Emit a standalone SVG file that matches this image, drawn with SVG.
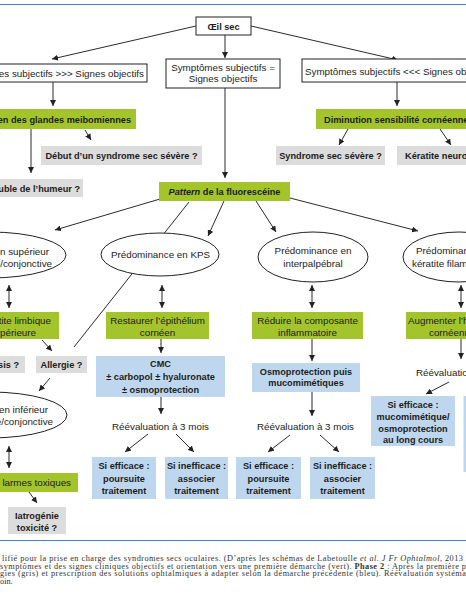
<svg xmlns="http://www.w3.org/2000/svg" width="466" height="600" viewBox="0 0 466 600">
<defs>
<marker id="ah" viewBox="0 0 10 10" refX="10" refY="5" markerWidth="6" markerHeight="6" markerUnits="userSpaceOnUse" orient="auto-start-reverse"><path d="M0,0 L10,5 L0,10 z" fill="#222"/></marker>
<style>
text{font-family:"Liberation Sans",Arial,sans-serif;fill:#1d1d1b;font-size:9.8px}
.b{font-weight:bold;font-size:9.2px}
.m{text-anchor:middle}
.e{text-anchor:end}
.wb{fill:#fff;stroke:#222;stroke-width:1}
.gr{fill:#a3c42b}
.gy{fill:#dcdcdc}
.bl{fill:#bfd7ee}
.el{fill:#fff;stroke:#222;stroke-width:1}
.c line{stroke:#2b2b2b;stroke-width:1;fill:none}
.a{marker-end:url(#ah)}
.d{marker-start:url(#ah);marker-end:url(#ah)}
.cap{font-family:"Liberation Serif","Times New Roman",serif;font-size:8.3px;fill:#333}
.rule{stroke:#3f86c8;stroke-width:1.2}
</style>
</defs>
<rect width="466" height="600" fill="#fff"/>
<line class="rule" x1="0" y1="4.5" x2="466" y2="4.5"/>

<g class="c" id="connectors">
<line class="a" x1="196" y1="26" x2="52" y2="59"/>
<line class="a" x1="251" y1="26" x2="398" y2="60"/>
<line class="a" x1="225" y1="35" x2="225" y2="58"/>
<line class="a" x1="53" y1="82" x2="53" y2="106"/>
<line class="a" x1="397" y1="82" x2="397" y2="106"/>
<line x1="0" y1="133" x2="-4" y2="138"/>
<line class="a" x1="85" y1="130" x2="91" y2="140"/>
<line class="a" x1="31" y1="129" x2="31" y2="173"/>
<line class="a" x1="348" y1="129" x2="339" y2="145"/>
<line class="a" x1="440" y1="129" x2="451" y2="145"/>
<line class="a" x1="225" y1="88" x2="225" y2="178"/>
<line class="a" x1="160" y1="199" x2="55" y2="230"/>
<line x1="189" y1="202" x2="74" y2="347"/>
<line class="a" x1="224" y1="201" x2="208" y2="236"/>
<line class="a" x1="256" y1="201" x2="276" y2="232"/>
<line class="a" x1="290" y1="198" x2="418" y2="231"/>
<line class="d" x1="9" y1="285" x2="9" y2="308"/>
<line class="d" x1="162" y1="285" x2="162" y2="308"/>
<line class="d" x1="312" y1="285" x2="312" y2="308"/>
<line class="d" x1="461" y1="285" x2="461" y2="308"/>
<line class="a" x1="42" y1="340" x2="52" y2="351"/>
<line class="a" x1="50" y1="378" x2="39" y2="391"/>
<line class="d" x1="9" y1="446" x2="9" y2="468"/>
<line class="a" x1="29" y1="492" x2="37" y2="503"/>
<line class="a" x1="161" y1="339" x2="161" y2="353"/>
<line class="a" x1="161" y1="397" x2="161" y2="414"/>
<line class="a" x1="148" y1="434" x2="125" y2="452"/>
<line class="a" x1="176" y1="434" x2="194" y2="452"/>
<line class="a" x1="312" y1="339" x2="312" y2="361"/>
<line class="a" x1="312" y1="392" x2="312" y2="416"/>
<line class="a" x1="290" y1="435" x2="268" y2="452"/>
<line class="a" x1="320" y1="435" x2="339" y2="452"/>
<line class="a" x1="461" y1="339" x2="461" y2="359"/>
<line class="a" x1="449" y1="382" x2="426" y2="394"/>
</g>

<g id="oeil-sec"><rect class="wb" x="196" y="17" width="55" height="18"/><text class="b m" x="223.5" y="29.5">Œil sec</text></g>
<g id="sympt-sup"><rect class="wb" x="-60" y="64" width="207" height="18"/><text class="e" x="144" y="76.5">Symptômes subjectifs &gt;&gt;&gt; Signes objectifs</text></g>
<g id="sympt-egal"><rect class="wb" x="166" y="59" width="114" height="29"/><text class="m" x="223" y="70.5">Symptômes subjectifs =</text><text class="m" x="223" y="82">Signes objectifs</text></g>
<g id="sympt-inf"><rect class="wb" x="302" y="59" width="180" height="23"/><text x="305" y="74.5">Symptômes subjectifs &lt;&lt;&lt; Signes objectifs</text></g>

<g id="meibo"><rect class="gr" x="-60" y="109" width="196" height="20"/><text class="b e" x="131" y="122.5">Examen des glandes meibomiennes</text></g>
<g id="diminution"><rect class="gr" x="316" y="109" width="160" height="20"/><text class="b" x="324" y="122.5">Diminution sensibilité cornéenne</text></g>
<g id="debut"><rect class="gy" x="41" y="146" width="161" height="19"/><text class="b m" x="121.5" y="159">Début d’un syndrome sec sévère ?</text></g>
<g id="humeur"><rect class="gy" x="-30" y="179" width="113" height="18"/><text class="b e" x="80" y="191.5">Trouble de l’humeur ?</text></g>
<g id="syndrome-severe"><rect class="gy" x="276" y="146" width="109" height="19"/><text class="b m" x="330.5" y="159">Syndrome sec sévère ?</text></g>
<g id="neuro"><rect class="gy" x="397" y="146" width="80" height="19"/><text class="b" x="405" y="159">Kératite neurotrophique ?</text></g>
<g id="pattern"><rect class="gr" x="159" y="182" width="131" height="19"/><text class="b m" x="224.5" y="195"><tspan font-style="italic">Pattern</tspan> de la fluorescéine</text></g>

<g id="pred-sup"><ellipse class="el" cx="-10" cy="255" rx="76" ry="23"/><text class="e" x="49" y="254.5">Prédominance en supérieur</text><text class="e" x="52" y="266.5">cornée/conjonctive</text></g>
<g id="pred-kps"><ellipse class="el" cx="160" cy="254.5" rx="59" ry="21.5"/><text class="m" x="160.5" y="258">Prédominance en KPS</text></g>
<g id="pred-inter"><ellipse class="el" cx="313" cy="257" rx="55" ry="25"/><text class="m" x="313" y="253.5">Prédominance en</text><text class="m" x="313" y="266.5">interpalpébral</text></g>
<g id="pred-fil"><ellipse class="el" cx="459" cy="257" rx="56" ry="25"/><text x="416" y="253.5">Prédominance en</text><text x="412" y="266.5">kératite filamenteuse</text></g>

<g id="limbique"><rect class="gr" x="-45" y="312" width="104" height="27"/><text class="e" x="51" y="323.5">Kératite limbique</text><text class="e" x="36" y="335.5">supérieure</text></g>
<g id="restaurer"><rect class="gr" x="106" y="312" width="103" height="27"/><text class="m" x="157.5" y="323.5">Restaurer l’épithélium</text><text class="m" x="157.5" y="335.5">cornéen</text></g>
<g id="reduire"><rect class="gr" x="252" y="312" width="111" height="27"/><text class="m" x="307.5" y="323.5">Réduire la composante</text><text class="m" x="307.5" y="335.5">inflammatoire</text></g>
<g id="augmenter"><rect class="gr" x="406" y="312" width="70" height="27"/><text x="408" y="323.5">Augmenter l’hydratation</text><text x="429" y="335.5">cornéenne</text></g>

<g id="chalasis"><rect class="gy" x="-40" y="356" width="65" height="17"/><text class="b e" x="19" y="368">Conjonctivochalasis ?</text></g>
<g id="allergie"><rect class="gy" x="36" y="356" width="51" height="17"/><text class="b m" x="61.5" y="368">Allergie ?</text></g>
<g id="pred-infer"><ellipse class="el" cx="-10" cy="415" rx="77" ry="23"/><text class="e" x="48" y="413">Prédominance en inférieur</text><text class="e" x="53" y="425">cornée/conjonctive</text></g>
<g id="larmes"><rect class="gr" x="-40" y="473" width="118" height="19"/><text class="e" x="71" y="486">larmes toxiques</text></g>
<g id="iatro"><rect class="gy" x="8" y="507" width="58" height="27"/><text class="b m" x="37" y="518.5">Iatrogénie</text><text class="b m" x="37" y="531">toxicité ?</text></g>

<g id="cmc"><rect class="bl" x="96" y="356" width="129" height="41"/><text class="b m" x="160.5" y="366.5">CMC</text><text class="b m" x="160.5" y="380">± carbopol ± hyaluronate</text><text class="b m" x="160.5" y="392.5">± osmoprotection</text></g>
<g id="reeval-1"><text class="m" x="160.5" y="429.5">Réévaluation à 3 mois</text></g>
<g id="eff-1"><rect class="bl" x="92" y="457" width="64" height="42"/><text class="b m" x="124" y="469">Si efficace :</text><text class="b m" x="124" y="481.5">poursuite</text><text class="b m" x="124" y="494">traitement</text></g>
<g id="ineff-1"><rect class="bl" x="165" y="457" width="63" height="42"/><text class="b m" x="196.5" y="469">Si inefficace :</text><text class="b m" x="196.5" y="481.5">associer</text><text class="b m" x="196.5" y="494">traitement</text></g>

<g id="osmo"><rect class="bl" x="252" y="363" width="108" height="29"/><text class="b m" x="306" y="374.5">Osmoprotection puis</text><text class="b m" x="306" y="386">mucomimétiques</text></g>
<g id="reeval-2"><text class="m" x="305.5" y="430">Réévaluation à 3 mois</text></g>
<g id="eff-2"><rect class="bl" x="236" y="457" width="65" height="42"/><text class="b m" x="268.5" y="469">Si efficace :</text><text class="b m" x="268.5" y="481.5">poursuite</text><text class="b m" x="268.5" y="494">traitement</text></g>
<g id="ineff-2"><rect class="bl" x="310" y="457" width="65" height="42"/><text class="b m" x="342.5" y="469">Si inefficace :</text><text class="b m" x="342.5" y="481.5">associer</text><text class="b m" x="342.5" y="494">traitement</text></g>

<g id="reeval-3"><text x="416" y="375.5">Réévaluation à 3 mois</text></g>
<g id="eff-3"><rect class="bl" x="371" y="396" width="84" height="50"/><text class="b m" x="413" y="407.5">Si efficace :</text><text class="b m" x="413" y="419.5">mucomimétique/</text><text class="b m" x="413" y="431.5">osmoprotection</text><text class="b m" x="413" y="442.5">au long cours</text></g>
<g id="ineff-3"><rect class="bl" x="463.5" y="396" width="10" height="76"/></g>

<line class="rule" x1="0" y1="540.5" x2="466" y2="540.5"/>
<g id="caption">
<text class="cap" x="2" y="561" textLength="461" lengthAdjust="spacing">lifié pour la prise en charge des syndromes secs oculaires. (D’après les schémas de Labetoulle <tspan font-style="italic">et al. J Fr Ophtalmol</tspan>, 2013</text>
<text class="cap" x="0" y="568.5" textLength="466" lengthAdjust="spacing">symptômes et des signes cliniques objectifs et orientation vers une première démarche (vert). <tspan font-weight="bold">Phase 2</tspan> : Après la première p</text>
<text class="cap" x="0" y="576" textLength="466" lengthAdjust="spacing">gies (gris) et prescription des solutions ophtalmiques à adapter selon la démarche précédente (bleu). Réévaluation systéma</text>
<text class="cap" x="0" y="583.5">oin.</text>
</g>
</svg>
